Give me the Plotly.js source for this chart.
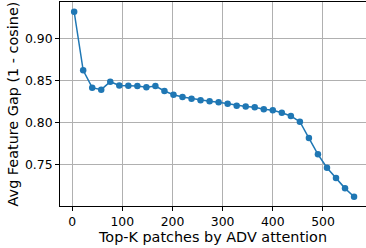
<!DOCTYPE html>
<html>
<head>
<meta charset="utf-8">
<script src="https://cdn.plot.ly/plotly-3.0.1.min.js"></script>
<style>
html,body{margin:0;padding:0;overflow:hidden;background:#fff;width:366px;height:248px;}
#chart{width:366px;height:248px;}
</style>
</head>
<body>
<div id="chart"></div>
<script>
// Top-K patches (x) and average feature gap (y)
const topK = [4, 22, 40, 58, 76, 94, 112, 130, 148, 166, 184, 202, 220, 238, 256, 274,
              292, 310, 328, 346, 364, 382, 400, 418, 436, 454, 472, 490, 508, 526, 544, 562];
const featureGap = [0.9321, 0.8623, 0.8417, 0.8393, 0.8488, 0.8444, 0.8440, 0.8437,
                    0.8421, 0.8437, 0.8377, 0.8333, 0.8306, 0.8286, 0.8266, 0.8254,
                    0.8242, 0.8226, 0.8202, 0.8194, 0.8183, 0.8159, 0.8147, 0.8119,
                    0.8079, 0.8012, 0.7817, 0.7623, 0.7464, 0.7341, 0.7218, 0.7119];
const xTicks = [0, 100, 200, 300, 400, 500];
const yTicks = [0.75, 0.80, 0.85, 0.90];
const xTitle = "Top-K patches by ADV attention";
const yTitle = "Avg Feature Gap (1 - cosine)";

const trace = {
  x: topK, y: featureGap, type: 'scatter', mode: 'lines+markers',
  line: {color: '#1f77b4', width: 1.5},
  marker: {color: '#1f77b4', size: 6.5},
  hoverinfo: 'skip'
};

const font = {family: 'DejaVu Sans, sans-serif', color: '#000'};
const layout = {
  width: 366, height: 248,
  margin: {l: 60, r: 0, t: 2, b: 42},
  paper_bgcolor: '#fff', plot_bgcolor: '#fff',
  showlegend: false,
  font: font,
  xaxis: {
    range: [-24.2, 585.8], tickvals: xTicks, ticktext: xTicks.map(String),
    showgrid: true, gridcolor: '#b0b0b0', gridwidth: 1,
    zeroline: false, showline: true, linecolor: '#000', linewidth: 1, mirror: true,
    ticks: 'outside', ticklen: 4, tickcolor: '#000', tickwidth: 1,
    tickfont: {family: font.family, size: 12.4, color: '#000'},
    title: {text: xTitle, font: {family: font.family, size: 14.4, color: '#000'}, standoff: 3}
  },
  yaxis: {
    range: [0.7008, 0.9437], tickvals: yTicks, ticktext: yTicks.map(v => v.toFixed(2)),
    showgrid: true, gridcolor: '#b0b0b0', gridwidth: 1,
    zeroline: false, showline: true, linecolor: '#000', linewidth: 1, mirror: false,
    ticks: 'outside', ticklen: 4, tickcolor: '#000', tickwidth: 1,
    tickfont: {family: font.family, size: 12.4, color: '#000'},
    title: {text: yTitle, font: {family: font.family, size: 14.4, color: '#000'}, standoff: 2}
  }
};

Plotly.newPlot('chart', [trace], layout, {staticPlot: true, displayModeBar: false});
</script>
</body>
</html>
